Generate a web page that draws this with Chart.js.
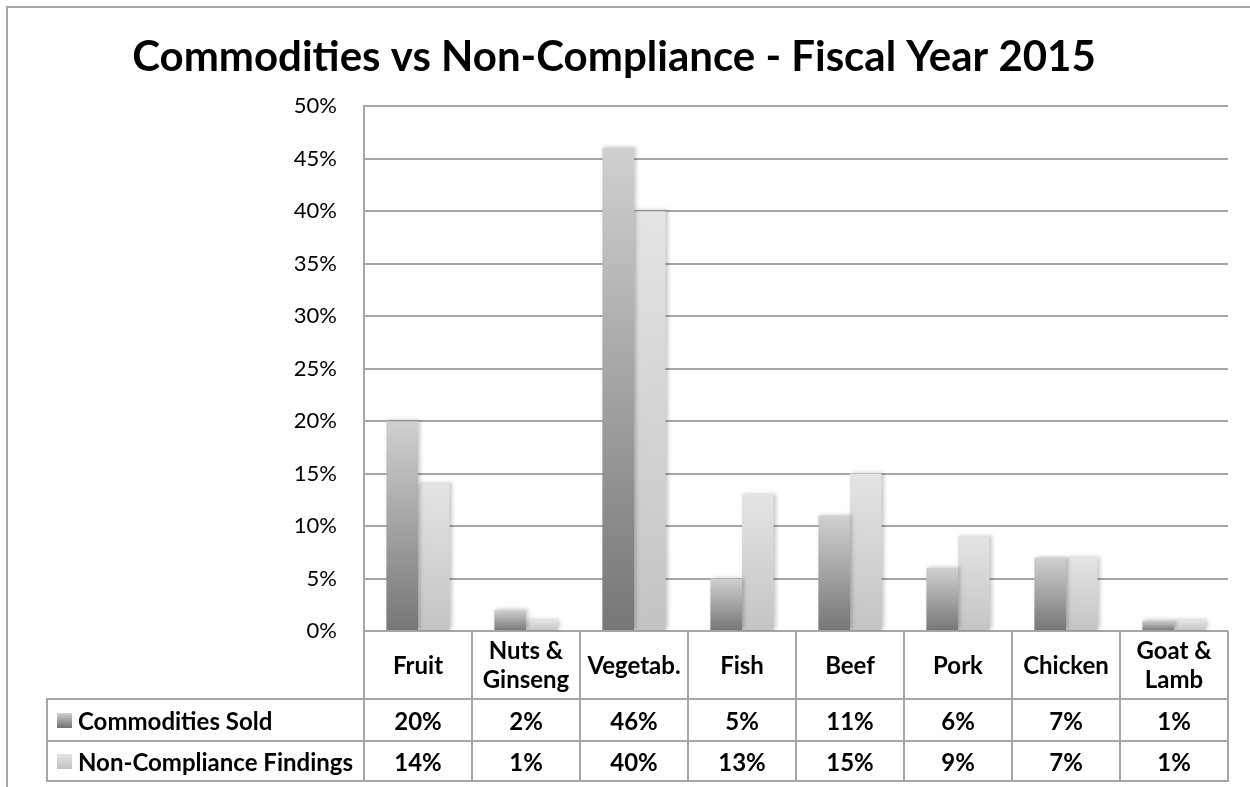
<!DOCTYPE html>
<html>
<head>
<meta charset="utf-8">
<script src="https://cdn.jsdelivr.net/npm/chart.js@4.4.1/dist/chart.umd.min.js"></script>
<style>
  html, body { margin: 0; padding: 0; background: #fff; }
  #wrap { width: 1250px; height: 787px; }
</style>
</head>
<body>
<div id="wrap"><canvas id="chart" width="1250" height="787"></canvas></div>
<script>
/* ── Data ── */
const categories = [['Fruit'], ['Nuts &', 'Ginseng'], ['Vegetab.'], ['Fish'], ['Beef'], ['Pork'], ['Chicken'], ['Goat &', 'Lamb']];
const seriesNames = ['Commodities Sold', 'Non-Compliance Findings'];
const soldValues = [20, 2, 46, 5, 11, 6, 7, 1];
const findingsValues = [14, 1, 40, 13, 15, 9, 7, 1];
const yMax = 50;
const yStep = 5;

const FONT = 'Lato, "Open Sans", sans-serif';
const LINE = '#a6a6a6';
const shades = [
  { bottom: '#767676', top: '#d0d0d0' },
  { bottom: '#c4c4c4', top: '#e4e4e4' }
];

function barFill(shade) {
  return (c) => {
    const chart = c.chart;
    if (!chart.chartArea || c.raw == null) return shade.top;
    const y = chart.scales.y;
    const top = y.getPixelForValue(c.raw);
    const bot = y.getPixelForValue(0);
    if (bot - top < 1) return shade.top;
    const g = chart.ctx.createLinearGradient(0, bot, 0, top);
    g.addColorStop(0, shade.bottom);
    g.addColorStop(1, shade.top);
    return g;
  };
}

/* ── Frame + bar shadow ── */
const framePlugin = {
  id: 'frame',
  beforeDraw(chart) {
    const ctx = chart.ctx;
    ctx.save();
    ctx.strokeStyle = LINE;
    ctx.lineWidth = 2;
    ctx.beginPath();
    ctx.moveTo(7, chart.height);
    ctx.lineTo(7, 7);
    ctx.lineTo(chart.width, 7);
    ctx.stroke();
    ctx.restore();
  },
  beforeDatasetsDraw(chart) {
    const ctx = chart.ctx;
    ctx.save();
    ctx.shadowColor = 'rgba(0,0,0,0.22)';
    ctx.shadowBlur = 4;
    ctx.shadowOffsetX = 2;
    ctx.shadowOffsetY = -1;
  },
  afterDatasetsDraw(chart) {
    chart.ctx.restore();
  }
};

/* ── Data table under the axis ── */
const tablePlugin = {
  id: 'dataTable',
  afterDraw(chart) {
    const ctx = chart.ctx;
    const x = chart.scales.x;
    const area = chart.chartArea;
    const half = (x.getPixelForValue(1) - x.getPixelForValue(0)) / 2;
    const headTop = area.bottom;
    const row1 = headTop + 68;
    const row2 = row1 + 42;
    const tableBottom = row2 + 40;
    const tableLeft = 47;

    ctx.save();
    ctx.strokeStyle = LINE;
    ctx.lineWidth = 2;
    ctx.beginPath();
    // column lines
    for (let i = 0; i <= categories.length; i++) {
      const px = Math.round(x.getPixelForValue(i) - half);
      ctx.moveTo(px, headTop);
      ctx.lineTo(px, tableBottom);
    }
    ctx.moveTo(tableLeft, row1);
    ctx.lineTo(tableLeft, tableBottom);
    [row1, row2, tableBottom].forEach(ry => {
      ctx.moveTo(tableLeft - 1, ry);
      ctx.lineTo(area.right + 1, ry);
    });
    ctx.stroke();

    ctx.fillStyle = '#000';
    ctx.textAlign = 'center';
    ctx.textBaseline = 'middle';
    ctx.font = 'bold 24px ' + FONT;

    // header labels
    categories.forEach((lines, i) => {
      const cx = x.getPixelForValue(i);
      const mid = (headTop + row1) / 2 + 1;
      const lh = 29;
      lines.forEach((t, k) => {
        ctx.fillText(t, cx, mid + (k - (lines.length - 1) / 2) * lh);
      });
    });

    // value rows
    const rows = [soldValues, findingsValues];
    const rowMids = [(row1 + row2) / 2 + 2, (row2 + tableBottom) / 2 + 2];
    rows.forEach((vals, r) => {
      vals.forEach((v, i) => {
        ctx.fillText(v + '%', x.getPixelForValue(i), rowMids[r]);
      });
    });

    // legend keys + series names
    ctx.textAlign = 'left';
    seriesNames.forEach((name, r) => {
      const my = rowMids[r] - 2;
      const g = ctx.createLinearGradient(0, my + 7, 0, my - 7);
      g.addColorStop(0, shades[r].bottom);
      g.addColorStop(1, shades[r].top);
      ctx.fillStyle = g;
      ctx.fillRect(57, my - 7, 15, 15);
      ctx.fillStyle = '#000';
      ctx.fillText(name, 78, rowMids[r]);
    });
    ctx.restore();
  }
};

new Chart(document.getElementById('chart'), {
  type: 'bar',
  data: {
    labels: categories,
    datasets: [
      { label: seriesNames[0], data: soldValues, backgroundColor: barFill(shades[0]), borderWidth: 0 },
      { label: seriesNames[1], data: findingsValues, backgroundColor: barFill(shades[1]), borderWidth: 0 }
    ]
  },
  options: {
    responsive: false,
    animation: false,
    layout: { padding: { left: 0, right: 22, top: 0, bottom: 156 } },
    datasets: { bar: { categoryPercentage: 0.585, barPercentage: 1 } },
    plugins: {
      legend: { display: false },
      tooltip: { enabled: false },
      title: {
        display: true,
        text: 'Commodities vs Non-Compliance - Fiscal Year 2015',
        color: '#000',
        font: { family: FONT, size: 42, weight: 'bold', lineHeight: 1.2 },
        padding: { top: 32, bottom: 24 }
      }
    },
    scales: {
      x: { display: false },
      y: {
        min: 0,
        max: yMax,
        afterFit(scale) { scale.width = 364; },
        border: { display: true, color: LINE, width: 2 },
        grid: { color: LINE, lineWidth: 2, drawTicks: false },
        ticks: {
          stepSize: yStep,
          padding: 27,
          color: '#000',
          font: { family: FONT, size: 22 },
          callback: v => v + '%'
        }
      }
    }
  },
  plugins: [framePlugin, tablePlugin]
});
</script>
</body>
</html>
